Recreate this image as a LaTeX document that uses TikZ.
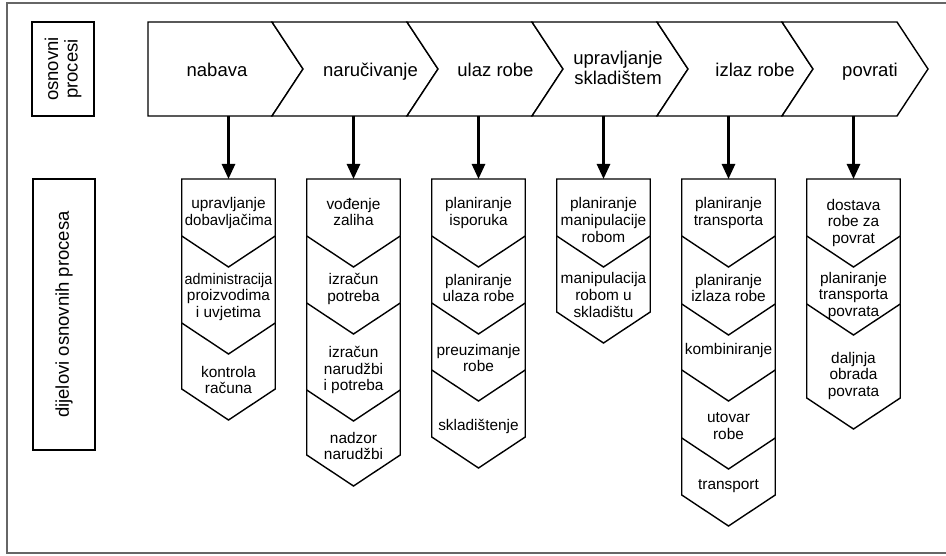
\documentclass[tikz,border=0pt]{standalone}
\usepackage{graphicx}
\usepackage{fontspec}
\setmainfont{Liberation Sans}
\usetikzlibrary{arrows.meta,positioning}
\tikzset{
    %Define standard arrow tip
    >={Triangle[width=13pt,length=15pt]},
    %Define style for chevrons
    chevron/.style={
           draw=black,
           line width=1.4pt,
           line join=miter,
           fill=white},
    %Define style for process labels
    proces/.style={
           font=\fontsize{18.5}{19.5}\selectfont,
           align=center,
           inner sep=0pt},
    dio/.style={
           font=\fontsize{15.4}{16.7}\selectfont,
           align=center,
           inner sep=0pt},
    oznaka/.style={
           rectangle,
           draw=black,
           line width=1.2pt,
           rotate=90,
           inner sep=0pt,
           font=\fontsize{18.5}{19.5}\selectfont,
           align=center},
    % Define arrow style
    strelica/.style={
           ->,
           line width=2.6pt},
    okvir/.style={
           draw=black!60,
           line width=1.5pt}
}
\begin{document}
\begin{tikzpicture}[x=1pt,y=-1pt]
\useasboundingbox (0,0) rectangle (946,556);
\draw[okvir] (950,3) -- (7,3) -- (7,553) -- (950,553);
 %labels
\node[oznaka, minimum width=94pt, minimum height=62pt] (os) at (63,69) {osnovni\\procesi};
\node[oznaka, minimum width=271pt, minimum height=62pt] (dj) at (64,314.5) {dijelovi osnovnih procesa};
 %top chevrons
\draw[chevron] (148,22) -- (272,22) -- (303,69) -- (272,116) -- (148,116) -- cycle;
\foreach \a/\b in {272/407,407/532,532/657,657/782,782/897}
  \draw[chevron] (\a,22) -- (\b,22) -- (\b+31,69) -- (\b,116) -- (\a,116) -- (\a+31,69) -- cycle;
\node[proces, anchor=base] (nabava) at (217,77) {nabava};
\node[proces, anchor=base] (narucivanje) at (370.5,77) {naručivanje};
\node[proces, anchor=base] (ulaz) at (495.5,77) {ulaz robe};
\node[proces] (upravljanje) at (618,68) {upravljanje\\skladištem};
\node[proces, anchor=base] (izlaz) at (755,77) {izlaz robe};
\node[proces, anchor=base] (povrati) at (870,77) {povrati};
 %columns
\foreach \i/\c/\yb/\vs in {1/228.5/389/{236,323}, 2/353.5/455/{236,303,390}, 3/478.5/437/{236,303,370},
    4/603.5/312/{236}, 5/728.5/495/{236,304,370,438}, 6/853.5/398/{236,304}} {
  \draw[chevron] (\c-46.75,179) -- (\c+46.75,179) -- (\c+46.75,\yb) -- (\c,\yb+31) -- (\c-46.75,\yb) -- cycle;
  \foreach \v in \vs
    \draw[chevron] (\c-46.75,\v) -- (\c,\v+31) -- (\c+46.75,\v);
  \coordinate (g\i) at (\c,116);
  \coordinate (d\i) at (\c,179);
}
\node[dio] (d11) at (228.5,213) {upravljanje\\\scalebox{0.97}[1]{dobavljačima}};
\node[dio] (d12) at (228.5,297) {\scalebox{0.93}[1]{administracija}\\proizvodima\\i uvjetima};
\node[dio] (d13) at (228.5,380) {kontrola\\računa};
\node[dio] (d21) at (353.5,212) {vođenje\\zaliha};
\node[dio] (d22) at (353.5,289) {izračun\\potreba};
\node[dio] (d23) at (353.5,370) {izračun\\narudžbi\\i potreba};
\node[dio] (d24) at (353.5,446) {nadzor\\narudžbi};
\node[dio] (d31) at (478.5,213) {planiranje\\isporuka};
\node[dio] (d32) at (478.5,288) {planiranje\\ulaza robe};
\node[dio] (d33) at (478.5,358) {preuzimanje\\robe};
\node[dio] (d34) at (478.5,426) {skladištenje};
\node[dio] (d41) at (603.5,220) {planiranje\\manipulacije\\robom};
\node[dio] (d42) at (603.5,295) {manipulacija\\robom u\\skladištu};
\node[dio] (d51) at (728.5,213) {planiranje\\transporta};
\node[dio] (d52) at (728.5,288) {planiranje\\izlaza robe};
\node[dio] (d53) at (728.5,351) {kombiniranje};
\node[dio] (d54) at (728.5,426) {utovar\\robe};
\node[dio] (d55) at (728.5,486) {transport};
\node[dio] (d61) at (853.5,223) {dostava\\robe za\\povrat};
\node[dio] (d62) at (853.5,296) {planiranje\\transporta\\povrata};
\node[dio] (d63) at (853.5,376) {daljnja\\obrada\\povrata};
 %arrows
\foreach \i in {1,...,6}
  \draw[strelica] (g\i) -- (d\i);
\end{tikzpicture}
\end{document}
